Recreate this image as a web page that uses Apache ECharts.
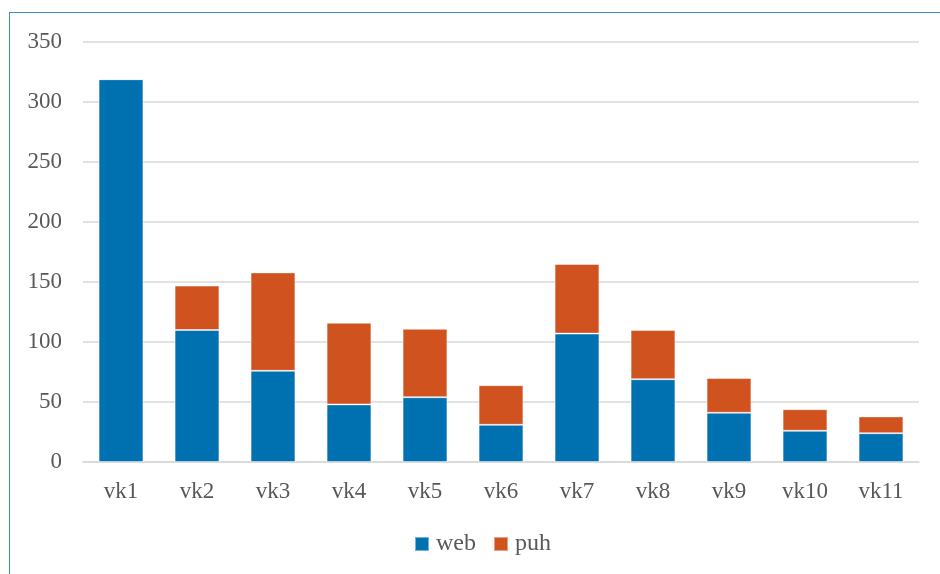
<!DOCTYPE html>
<html><head><meta charset="utf-8">
<script src="https://cdn.jsdelivr.net/npm/echarts@6/dist/echarts.min.js"></script>
<style>
html,body{margin:0;padding:0;background:#fff;overflow:hidden}
#frame{position:absolute;left:9px;top:12px;width:960px;height:600px;border:1px solid #3a8fc8;box-sizing:border-box}
#c{position:absolute;left:0;top:0;width:940px;height:574px}
</style></head>
<body>
<div id="frame"></div>
<div id="c"></div>
<script>
const categories = ['vk1','vk2','vk3','vk4','vk5','vk6','vk7','vk8','vk9','vk10','vk11'];
const web = [319,110,76,48,54,31,107,69,41,26,24];
const puh = [0,37,82,68,57,33,58,41,29,18,14];
const yTicks = [0,50,100,150,200,250,300,350];

const chart = echarts.init(document.getElementById('c'), null, {renderer:'canvas'});
const font = "'Liberation Serif'";
chart.setOption({
  animation:false,
  textStyle:{fontFamily:font},
  grid:{left:83,right:21,top:42,bottom:112,containLabel:false},
  legend:{
    data:['web','puh'], left:409, top:527, itemWidth:14, itemHeight:14, itemGap:17,
    icon:'rect',
    textStyle:{fontFamily:font,fontSize:24,color:'#595959',padding:[0,0,0,2]}
  },
  xAxis:{
    type:'category', data:categories,
    axisLine:{lineStyle:{color:'#d9d9d9',width:1.5}},
    axisTick:{show:false},
    axisLabel:{fontFamily:font,fontSize:23,color:'#595959',margin:18}
  },
  yAxis:{
    type:'value', min:yTicks[0], max:yTicks[yTicks.length-1], interval:50,
    axisLine:{show:false}, axisTick:{show:false},
    splitLine:{lineStyle:{color:'#d9d9d9',width:1.5}},
    axisLabel:{fontFamily:font,fontSize:23,color:'#595959',margin:21}
  },
  series:[
    {name:'web',type:'bar',stack:'a',data:web,barWidth:'59%',
     itemStyle:{color:'#0071b0',borderColor:'rgba(255,255,255,0.45)',borderWidth:1}},
    {name:'puh',type:'bar',stack:'a',data:puh,barWidth:'59%',
     itemStyle:{color:'#d0521f',borderColor:'rgba(255,255,255,0.45)',borderWidth:1}}
  ]
});
</script>
</body></html>
